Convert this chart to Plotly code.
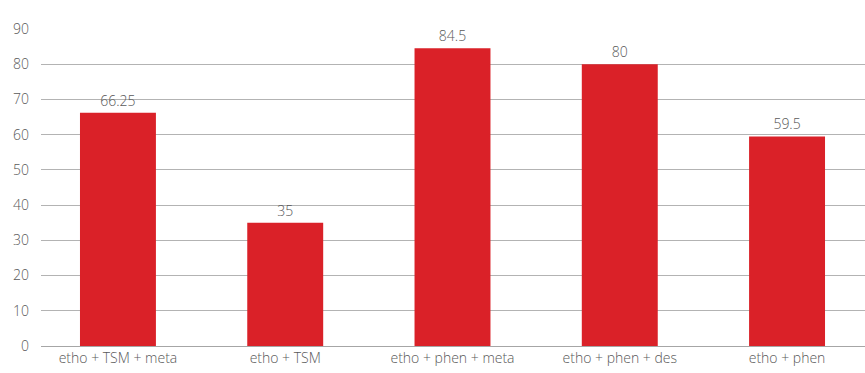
import plotly.graph_objects as go

categories = ["etho + TSM + meta", "etho + TSM", "etho + phen + meta", "etho + phen + des", "etho + phen"]
values = [66.25, 35, 84.5, 80, 59.5]
value_labels = ["66.25", "35", "84.5", "80", "59.5"]
y_ticks = [0, 10, 20, 30, 40, 50, 60, 70, 80, 90]

fnt = dict(family="Open Sans", size=14, color="#595959", weight=300)

fig = go.Figure(go.Bar(
    x=categories, y=values, text=value_labels, textposition="outside",
    textfont=fnt,
    marker=dict(color="#da2128", line=dict(width=0)),
    width=0.454, cliponaxis=False,
))

fig.update_layout(
    width=865, height=373,
    margin=dict(l=41, r=0, t=29, b=27),
    plot_bgcolor="white", paper_bgcolor="white",
    font=fnt,
    showlegend=False,
    xaxis=dict(range=[-0.46, 4.466], showgrid=False, showline=False, ticks="",
               tickfont=fnt, ticklabelstandoff=2),
    yaxis=dict(range=[0, 90], tickvals=y_ticks, showgrid=True, gridcolor="#b3b3b3", gridwidth=1,
               zeroline=True, zerolinecolor="#a6a6a6", zerolinewidth=1,
               showline=False, ticks="", ticklabelstandoff=11,
               tickfont=fnt),
)

fig.write_html("out.html")
